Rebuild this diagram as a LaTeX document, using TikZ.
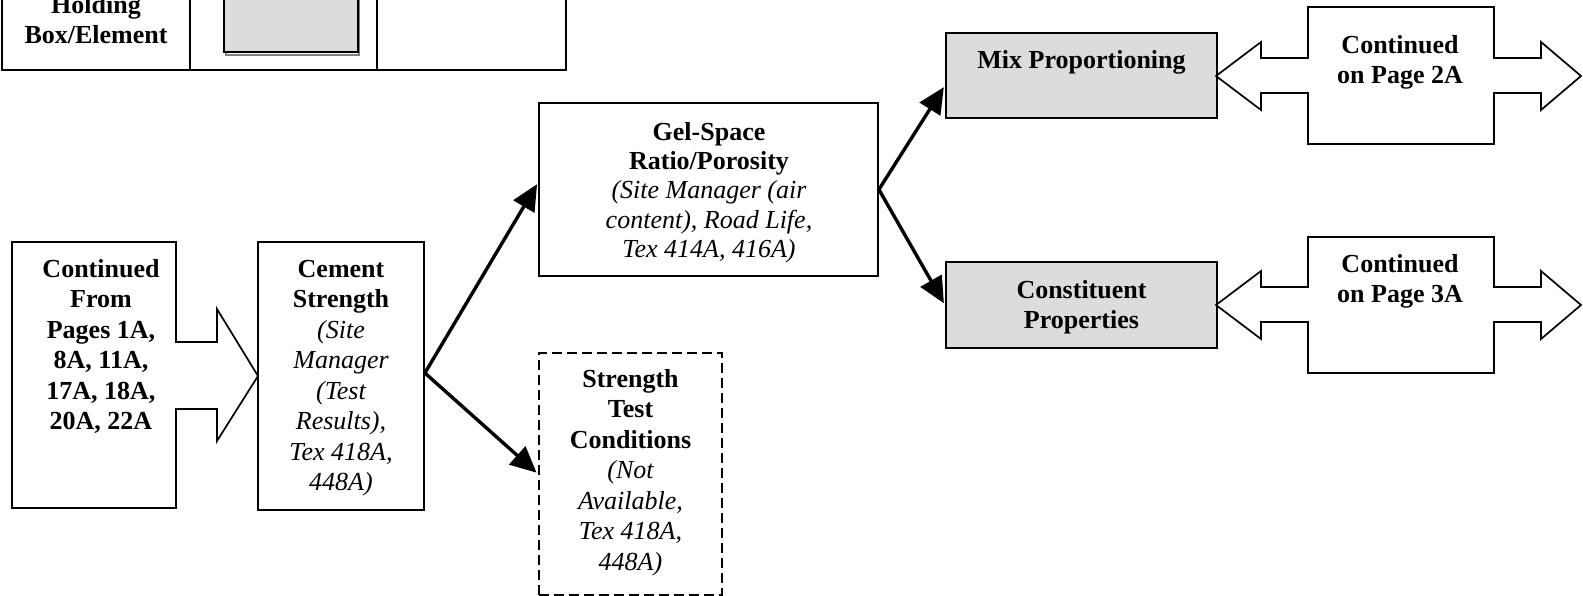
\documentclass[tikz,border=0pt]{standalone}
\usepackage{fontspec}
\setmainfont{Liberation Serif}
\usetikzlibrary{arrows.meta}
% fixed height for the first line of every label, so labels can be placed by their top edge
\newcommand\firstline{\rule{0pt}{22pt}}
\definecolor{boxgray}{HTML}{DCDCDC}
\begin{document}
\begin{tikzpicture}[x=1pt,y=-1pt,
  txt/.style={anchor=north, inner sep=0pt, align=center,
              font=\fontsize{26}{30.5}\selectfont},
  box/.style={draw, line width=1.8pt, inner sep=0pt, fill=white},
  graybox/.style={draw, line width=2.2pt, inner sep=0pt, fill=boxgray},
  dashbox/.style={draw, line width=1.9pt, inner sep=0pt, dash pattern=on 10pt off 5pt},
  blockarrow/.style={draw, line width=1.7pt, fill=white, line join=miter},
  arr/.style={line width=3.4pt, -{Triangle[length=26pt,width=24pt]}, shorten >=2pt},
  tablerule/.style={line width=2.6pt}]
\useasboundingbox (0,0) rectangle (1583,596);

% legend table (upper part lies above the page)
\draw[tablerule] (2,-20) -- (2,70) -- (566,70) -- (566,-20);
\draw[tablerule] (190,-20) -- (190,70);
\draw[tablerule] (377,-20) -- (377,70);
\draw[draw=gray, line width=2pt] (226,-20) -- (226,55) -- (359,55) -- (359,-20);
\node[graybox, minimum width=134pt, minimum height=83pt, anchor=south west] (legendbox) at (223,53) {};
\node[txt] (holding) at (96,-9) {\firstline\bfseries Holding\\\bfseries Box/Element};

% incoming block arrow
\draw[blockarrow] (12,242) -- (176,242) -- (176,342) -- (217,342) -- (217,309)
  -- (258,376) -- (217,441) -- (217,409) -- (176,409) -- (176,508) -- (12,508) -- cycle;
\node[txt] (contfrom) at (101,255) {\firstline\bfseries Continued\\\bfseries From\\\bfseries Pages 1A,\\\bfseries 8A, 11A,\\\bfseries 17A, 18A,\\\bfseries 20A, 22A};

% cement strength
\node[box, minimum width=166pt, minimum height=268pt] (cement) at (341,376) {};
\node[txt] (cementtxt) at (341,255) {\firstline\bfseries Cement\\\bfseries Strength\\\itshape (Site\\\itshape Manager\\\itshape (Test\\\itshape Results),\\\itshape Tex 418A,\\\itshape 448A)};

% gel-space ratio
\node[box, minimum width=339pt, minimum height=173pt] (gel) at (708.5,189.5) {};
\node[txt, font=\fontsize{26}{29.3}\selectfont] (geltxt) at (709,118) {\firstline\bfseries Gel-Space\\\bfseries Ratio/Porosity\\\itshape (Site Manager (air\\\itshape content), Road Life,\\\itshape Tex 414A, 416A)};

% strength test conditions
\node[dashbox, minimum width=183pt, minimum height=242pt] (strength) at (630.5,474) {};
\node[txt] (strengthtxt) at (630.5,365) {\firstline\bfseries Strength\\\bfseries Test\\\bfseries Conditions\\\itshape (Not\\\itshape Available,\\\itshape Tex 418A,\\\itshape 448A)};

% mix proportioning and constituent properties
\node[graybox, minimum width=271pt, minimum height=85pt] (mix) at (1081.5,75.5) {};
\node[txt] (mixtxt) at (1081.5,46) {\firstline\bfseries Mix Proportioning};
\node[graybox, minimum width=271pt, minimum height=86pt] (const) at (1081.5,305) {};
\node[txt] (consttxt) at (1081.5,276) {\firstline\bfseries Constituent\\\bfseries Properties};

% outgoing double block arrows
\draw[blockarrow] (1216,76) -- (1261,42) -- (1261,58) -- (1308,58) -- (1308,7) -- (1494,7)
  -- (1494,58) -- (1541,58) -- (1541,42) -- (1581,76) -- (1541,110) -- (1541,93) -- (1494,93)
  -- (1494,144) -- (1308,144) -- (1308,93) -- (1261,93) -- (1261,110) -- cycle;
\node[txt] (cont2) at (1400,31) {\firstline\bfseries Continued\\\bfseries on Page 2A};
\begin{scope}[shift={(0,229)}]
\draw[blockarrow] (1216,76) -- (1261,42) -- (1261,58) -- (1308,58) -- (1308,8) -- (1494,8)
  -- (1494,58) -- (1541,58) -- (1541,42) -- (1581,76) -- (1541,110) -- (1541,93) -- (1494,93)
  -- (1494,144) -- (1308,144) -- (1308,93) -- (1261,93) -- (1261,110) -- cycle;
\end{scope}
\node[txt] (cont3) at (1400,250) {\firstline\bfseries Continued\\\bfseries on Page 3A};

% connectors
\coordinate (split) at ([yshift=3pt]cement.east);
\draw[arr] (split) -- ([yshift=7pt]gel.west);
\draw[arr] (split) -- (strength.west);
\draw[arr] (gel.east) -- ([yshift=-10pt]mix.west);
\draw[arr] (gel.east) -- (const.west);
\end{tikzpicture}
\end{document}
